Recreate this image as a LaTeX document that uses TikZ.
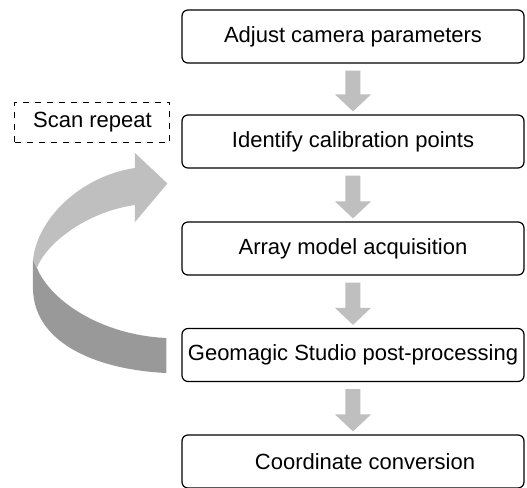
\documentclass[tikz,border=0pt]{standalone}
\usepackage{fontspec}
\setmainfont{Liberation Sans}
\usepackage{tikz}
\usetikzlibrary{calc}
\definecolor{light-gray}{gray}{0.75}
\definecolor{mid-gray}{gray}{0.6}

\tikzset{
	stepbox/.style={draw=black, line width=0.6pt, rounded corners=3pt, minimum width=171pt, minimum height=26.5pt, inner sep=0pt, font=\fontsize{11}{13}\selectfont},
	notebox/.style={draw=black, dashed, line width=0.5pt, minimum width=77.5pt, minimum height=20pt, inner sep=0pt, font=\fontsize{11}{13}\selectfont}
}

% block arrow from one box down to the next
\newcommand{\flowarrow}[2]{%
	\fill[light-gray] ($(#1.south)+(-7.5,7)$) -- ($(#1.south)+(7.5,7)$) -- ($(#2.north)+(7.5,-20)$) -- ($(#2.north)+(18,-20)$) -- ($(#2.north)+(0,-3)$) -- ($(#2.north)+(-18,-20)$) -- ($(#2.north)+(-7.5,-20)$) -- cycle;}

\begin{document}
\begin{tikzpicture}[x=0.5pt, y=-0.5pt]

			\useasboundingbox (0,0) rectangle (527,488);

			\node[stepbox] (adjust) at (353,36.5) {Adjust camera parameters};
			\node[stepbox] (identify) at (353,141.5) {Identify calibration points};
			\node[stepbox] (array) at (353,248.5) {Array model acquisition};
			\node[stepbox] (geomagic) at (353,355) {Geomagic Studio post-processing};
			\node[stepbox] (convert) at (353,461.5) {\hspace{12pt}Coordinate conversion};

			\node[notebox] (scan) at (92.5,122) {Scan repeat\hspace{5pt}};

			\flowarrow{adjust}{identify}
			\flowarrow{identify}{array}
			\flowarrow{array}{geomagic}
			\flowarrow{geomagic}{convert}

			% loop ribbon, back from post-processing to calibration
			\coordinate (tail) at ($(geomagic.west)+(-15,0)$);
			\coordinate (tip) at ($(identify.west)+(-14,42)$);
			\fill[mid-gray] (33,260) -- (33,290) .. controls (35,345) and (100,370) .. ($(tail)+(0,18)$) -- ($(tail)+(0,-17)$) .. controls (100,335) and (50,300) .. (37,268) -- cycle;
			\fill[light-gray] (37,268) .. controls (45,245) and (85,212) .. (135,205) -- (135,222) -- (tip) -- (135,153) -- (135,168) .. controls (85,175) and (38,215) .. (33,260) -- cycle;

\end{tikzpicture}
\end{document}
